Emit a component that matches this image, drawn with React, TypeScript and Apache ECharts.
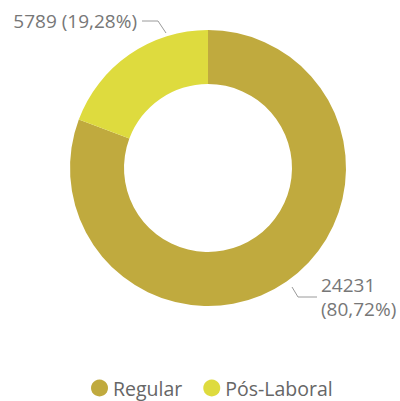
import React, { useEffect, useRef } from "react";
import * as echarts from "echarts";

const categories = ["Regular", "Pós-Laboral"];
const values = [24231, 5789];
const colors = ["#C0AA3E", "#DEDB3E"];

export default function App() {
  const ref = useRef<HTMLDivElement>(null);
  useEffect(() => {
    document.body.style.margin = "0";
    const chart = echarts.init(ref.current!, undefined, { renderer: "svg" });
    const font = "'Open Sans', 'Noto Sans', sans-serif";
    chart.setOption({
      animation: false,
      color: colors,
      legend: {
        bottom: -2,
        left: 86,
        icon: "circle",
        itemWidth: 17,
        itemHeight: 17,
        itemGap: 21,
        textStyle: { fontFamily: font, fontSize: 19.5, color: "#666" },
        data: categories,
      },
      series: [
        {
          type: "pie",
          center: [208, 168],
          radius: [84, 138],
          startAngle: 90,
          clockwise: true,
          data: categories.map((c, i) => ({ name: c, value: values[i] })),
          label: {
            show: true,
            position: "outside",
            overflow: "none",
            fontFamily: font,
            fontSize: 19,
            lineHeight: 24,
            color: "#777",
            formatter: (p: any) => {
              const pct = p.percent.toFixed(2).replace(".", ",");
              return p.dataIndex === 0
                ? `${p.value}\n(${pct}%)`
                : `${p.value} (${pct}%)`;
            },
          },
          labelLine: { show: true, lineStyle: { color: "#9a9a9a", width: 1 } },
          labelLayout: (params: any) => {
            if (params.dataIndex === 0) {
              return {
                x: 321,
                y: 297,
                width: 200,
                align: "left",
                verticalAlign: "middle",
                labelLinePoints: [
                  [292, 287],
                  [298, 297],
                  [317, 297],
                ],
              };
            }
            return {
              x: 137,
              y: 21,
              width: 200,
              align: "right",
              verticalAlign: "middle",
              labelLinePoints: [
                [166, 33],
                [158, 21],
                [142, 21],
              ],
            };
          },
          emphasis: { disabled: true },
        },
      ],
    });
    return () => chart.dispose();
  }, []);
  return <div ref={ref} style={{ width: 400, height: 401 }} />;
}
